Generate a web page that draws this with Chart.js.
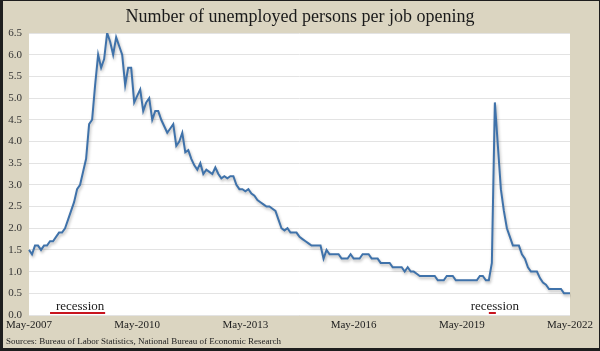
<!DOCTYPE html>
<html><head><meta charset="utf-8">
<script src="https://cdn.jsdelivr.net/npm/chart.js@4.4.1/dist/chart.umd.min.js"></script>
<style>
html,body{margin:0;padding:0;background:#dbd5c1;}
#wrap{position:relative;width:600px;height:351px;overflow:hidden;}
#frame{position:absolute;left:0;top:0;width:600px;height:351px;box-sizing:border-box;border-style:solid;border-color:#1e1e1e;border-width:1px 1px 3px 3px;pointer-events:none;}
canvas{display:block;}
</style></head><body>
<div id="wrap"><canvas id="c" width="600" height="351"></canvas><div id="frame"></div></div>
<script>
// ---- data ----
const monthNames = ['Jan','Feb','Mar','Apr','May','Jun','Jul','Aug','Sep','Oct','Nov','Dec'];
const firstYear = 2007, firstMonthIndex = 4, monthCount = 181; // May-2007 .. May-2022
const categories = [];
for (let i = 0; i < monthCount; i++) {
  const t = firstMonthIndex + i;
  categories.push(monthNames[t % 12] + '-' + (firstYear + Math.floor(t / 12)));
}
const unemployedPerOpening = [
  1.5,1.4,1.6,1.6,1.5,1.6,1.6,1.7,1.7,1.8,1.9,1.9,
  2.0,2.2,2.4,2.6,2.9,3.0,3.3,3.6,4.4,4.5,5.3,6.0,
  5.7,5.9,6.5,6.3,6.0,6.4,6.2,6.0,5.3,5.7,5.7,4.9,
  5.05,5.2,4.7,4.9,5.0,4.5,4.7,4.7,4.5,4.35,4.2,4.3,
  4.4,3.9,4.0,4.2,3.75,3.8,3.6,3.45,3.35,3.5,3.25,3.35,
  3.3,3.25,3.4,3.25,3.15,3.2,3.15,3.2,3.2,3.0,2.9,2.9,
  2.85,2.9,2.8,2.75,2.65,2.6,2.55,2.5,2.5,2.45,2.4,2.2,
  2.0,1.95,2.0,1.9,1.9,1.9,1.8,1.75,1.7,1.65,1.6,1.6,
  1.6,1.6,1.3,1.5,1.4,1.4,1.4,1.4,1.3,1.3,1.3,1.4,
  1.3,1.3,1.3,1.4,1.4,1.4,1.3,1.3,1.3,1.2,1.2,1.2,
  1.2,1.1,1.1,1.1,1.1,1.0,1.1,1.0,1.0,0.95,0.9,0.9,
  0.9,0.9,0.9,0.9,0.8,0.8,0.8,0.9,0.9,0.9,0.8,0.8,
  0.8,0.8,0.8,0.8,0.8,0.8,0.9,0.9,0.8,0.8,1.2,4.9,
  3.9,2.9,2.4,2.0,1.8,1.6,1.6,1.6,1.4,1.3,1.1,1.0,
  1.0,1.0,0.85,0.75,0.7,0.6,0.6,0.6,0.6,0.6,0.5,0.5,
  0.5
];
const xTickLabels = ['May-2007','May-2010','May-2013','May-2016','May-2019','May-2022'];
const yMin = 0, yMax = 6.5, yStep = 0.5;
const recessionStart = ['Dec-2007','Feb-2020'];
const recessionEnd = ['Jun-2009','Apr-2020'];
const recessionText = 'recession';
const titleText = 'Number of unemployed persons per job opening';
const sourceText = 'Sources: Bureau of Labor Statistics, National Bureau of Economic Research';

// ---- chart ----
Chart.defaults.font.family = "'Liberation Serif', 'Times New Roman', serif";
const BG = '#dbd5c1';

const extras = {
  id: 'extras',
  beforeDraw(chart) {
    const { ctx, chartArea: a } = chart;
    ctx.save();
    ctx.fillStyle = BG;
    ctx.fillRect(0, 0, chart.width, chart.height);
    ctx.fillStyle = '#ffffff';
    ctx.fillRect(a.left, a.top, a.right - a.left, a.bottom - a.top);
    ctx.restore();
  },
  beforeDatasetDraw(chart) {
    const ctx = chart.ctx;
    ctx.save();
    ctx.shadowColor = 'rgba(0,0,0,0.28)';
    ctx.shadowBlur = 3;
    ctx.shadowOffsetX = 1;
    ctx.shadowOffsetY = 2;
  },
  afterDatasetDraw(chart) {
    chart.ctx.restore();
  },
  afterDraw(chart) {
    const { ctx, chartArea: a, scales } = chart;
    const xs = scales.x;
    ctx.save();
    // title
    ctx.fillStyle = '#1a1a1a';
    ctx.font = "18px 'Liberation Serif', serif";
    ctx.textAlign = 'center';
    ctx.textBaseline = 'middle';
    ctx.fillText(titleText, 300, 17);
    // sources
    ctx.font = "9px 'Liberation Serif', serif";
    ctx.textAlign = 'left';
    ctx.fillStyle = '#222';
    ctx.fillText(sourceText, 6, 342);
    // recessions
    for (let i = 0; i < recessionStart.length; i++) {
      const x0 = xs.getPixelForValue(categories.indexOf(recessionStart[i]));
      const x1 = xs.getPixelForValue(categories.indexOf(recessionEnd[i]));
      ctx.strokeStyle = '#c8141e';
      ctx.lineWidth = 2;
      ctx.lineCap = 'butt';
      ctx.beginPath();
      ctx.moveTo(x0, a.bottom - 2);
      ctx.lineTo(x1 + 1, a.bottom - 2);
      ctx.stroke();
      ctx.fillStyle = '#1a1a1a';
      ctx.font = "13px 'Liberation Serif', serif";
      ctx.textAlign = 'center';
      ctx.textBaseline = 'middle';
      ctx.fillText(recessionText, (x0 + x1) / 2 + 3, a.bottom - 8);
    }
    ctx.restore();
  }
};

new Chart(document.getElementById('c'), {
  type: 'line',
  data: {
    labels: categories,
    datasets: [{
      data: unemployedPerOpening,
      borderColor: '#3f72aa',
      borderWidth: 2,
      pointRadius: 0,
      tension: 0,
      fill: false
    }]
  },
  options: {
    responsive: false,
    animation: false,
    devicePixelRatio: 1,
    layout: { padding: { left: 1, right: 30, top: 33, bottom: 16 } },
    plugins: { legend: { display: false }, title: { display: false }, tooltip: { enabled: false } },
    scales: {
      x: {
        grid: { display: false, drawTicks: false },
        border: { display: false },
        afterFit(s) { s.height = 20; },
        ticks: {
          autoSkip: false, maxRotation: 0, minRotation: 0, padding: 4,
          color: '#222', font: { size: 11 },
          callback(v, i) { const l = categories[i]; return xTickLabels.includes(l) ? l : ''; }
        }
      },
      y: {
        min: yMin, max: yMax,
        afterFit(s) { s.width = 28; },
        grid: { color: '#e3e3e3', lineWidth: 1, drawTicks: false },
        border: { display: false },
        ticks: {
          stepSize: yStep, padding: 7, color: '#333', font: { size: 11 },
          callback(v) { return Number(v).toFixed(1); }
        }
      }
    }
  },
  plugins: [extras]
});
</script>
</body></html>
